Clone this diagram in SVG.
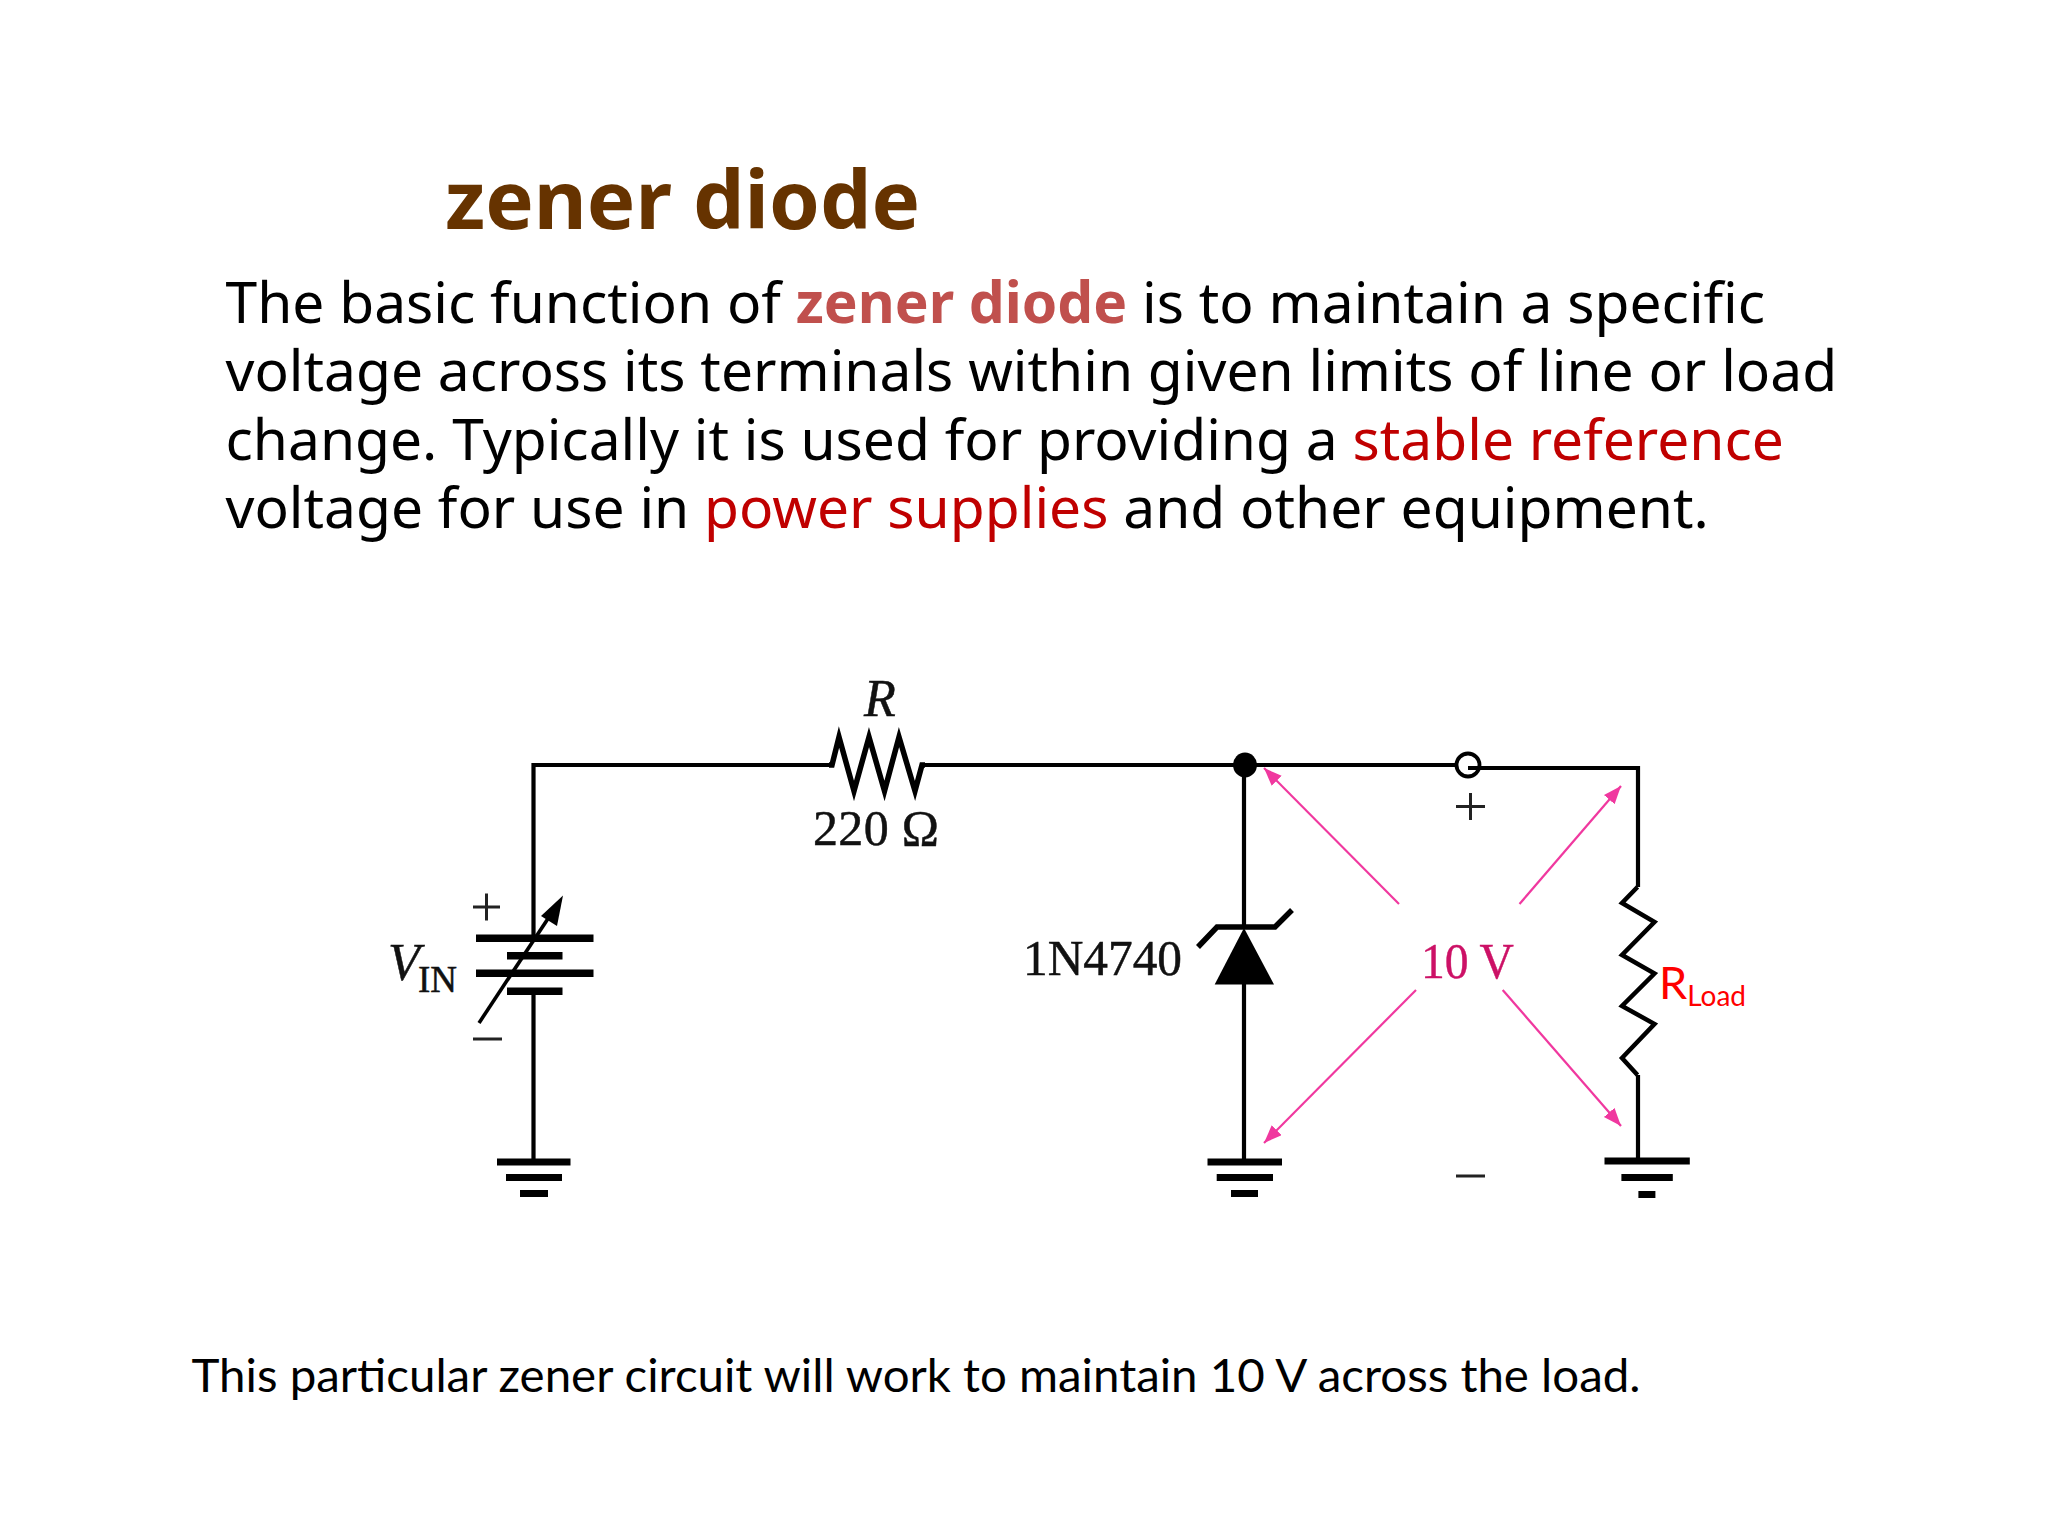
<svg xmlns="http://www.w3.org/2000/svg" width="2048" height="1536" viewBox="0 0 2048 1536">
<style>
.w{fill:none;stroke:#000;stroke-width:4.200;stroke-linejoin:miter}
.p{fill:#000}
.s{font-family:"Liberation Serif",serif;fill:#111;stroke:#111;stroke-width:.5}
.b{font-family:"Noto Sans",sans-serif;font-size:56.900px;fill:#000}
.l{font-family:Lato,sans-serif}
.a{stroke:#f0389f;stroke-width:2.200;fill:none;marker-end:url(#ah)}
</style>
<defs><marker id="ah" markerUnits="userSpaceOnUse" markerWidth="20" markerHeight="16" refX="18" refY="7" orient="auto"><path d="M0 0L18 7L0 14Z" fill="#f0389f"/></marker></defs>
<rect width="2048" height="1536" fill="#fff"/>
<text id="title" x="445" y="229" font-family="Noto Sans" font-weight="700" font-size="81.500" fill="#663300">zener diode</text>
<g id="body" class="b">
<text x="225.500" y="322.500">The basic function of <tspan font-weight="700" fill="#c0504d">zener diode</tspan> is to maintain a specific</text>
<text x="225.500" y="391">voltage across its terminals within given limits of line or load</text>
<text x="225.500" y="459.500">change. Typically it is used for providing a <tspan fill="#c00000">stable reference</tspan></text>
<text x="225.500" y="528">voltage for use in <tspan fill="#c00000">power supplies</tspan> and other equipment.</text>
</g>
<g id="terminal"><circle cx="1468" cy="765" r="11.500" fill="#fff" stroke="#000" stroke-width="3.800"/><path d="M1456 806.500h29M1470.500 793v27M1456 1176h29" stroke="#222" stroke-width="3" fill="none"/></g>
<g id="connectors">
<path class="w" d="M533.500 938V765H829M925 765H1458M1468 768H1638V887M1638 1075V1160M533.500 991V1162M1244 765V928M1244 984V1162"/>
</g>
<g id="source">
<path class="p" d="M476 934.500h117.500v7.500H476zM507 952h55.500v7.500H507zM476 969.500h117.500v7.500H476zM507 987.500h55.500v7.500H507z"/>
<path d="M479 1023L555 908" stroke="#000" stroke-width="3.600" fill="none"/>
<path class="p" d="M563 895.500L541 916L557 926Z"/>
<path d="M473 907h27M486.500 893.500v27M473 1039h29" stroke="#222" stroke-width="3" fill="none"/>
<text class="s" x="388" y="980" font-size="52" font-style="italic">V</text>
<text class="s" x="418" y="991.500" font-size="37">IN</text>
</g>
<g id="resistor-r">
<path fill="none" stroke="#000" stroke-width="5.500" d="M829 765H832L839 737L854 791L869 737L884.500 791L899 737L915 791L922 765H925"/>
<text class="s" x="880" y="716" font-size="52" font-style="italic" text-anchor="middle">R</text>
<text class="s" x="813" y="845" font-size="50" textLength="126">220 Ω</text>
</g>
<g id="node-junction"><ellipse cx="1245" cy="765" rx="12" ry="12.500" class="p"/></g>
<g id="zener">
<path class="p" d="M1244 928L1214.700 984.500H1274Z"/>
<path fill="none" stroke="#000" stroke-width="5.500" d="M1198 947L1217 927H1275L1292 910"/>
<text class="s" x="1023" y="975" font-size="51" textLength="159" lengthAdjust="spacingAndGlyphs">1N4740</text>
</g>
<g id="load">
<path fill="none" stroke="#000" stroke-width="4.500" d="M1637.500 887L1622 903L1654.500 922L1622 955L1654.500 973.500L1622 1006L1654.500 1024L1622 1058L1637.500 1075"/>
<text class="l" x="1659" y="999" font-size="45" fill="#f00">R<tspan font-size="28" dy="7">Load</tspan></text>
</g>
<g id="grounds" class="p">
<path d="M497 1158.500h73.500v7H497zM506 1174h56v7h-56zM520 1190h28v7h-28z"/>
<path d="M1207.500 1158.500H1282v7h-74.500zM1216.700 1174H1273v7h-56.300zM1231 1190h27v7h-27z"/>
<path d="M1604.500 1157.500h85.300v7h-85.300zM1621.400 1174h51.400v7h-51.400zM1638.400 1191h17v7h-17z"/>
</g>
<g id="voltage-arrows">
<path class="a" d="M1399 904L1264 768"/>
<path class="a" d="M1519.500 904L1621 786"/>
<path class="a" d="M1416 990L1264 1143"/>
<path class="a" d="M1502.700 990L1621 1126"/>
<text x="1421" y="978" font-family="Liberation Serif" font-size="50" fill="#cc1166" stroke="#cc1166" stroke-width=".4" textLength="93" lengthAdjust="spacingAndGlyphs">10 V</text>
</g>
<text id="caption" class="l" x="191.500" y="1392" font-size="47" fill="#000" textLength="1449" lengthAdjust="spacingAndGlyphs">This particular zener circuit will work to maintain 10 V across the load.</text>
</svg>
